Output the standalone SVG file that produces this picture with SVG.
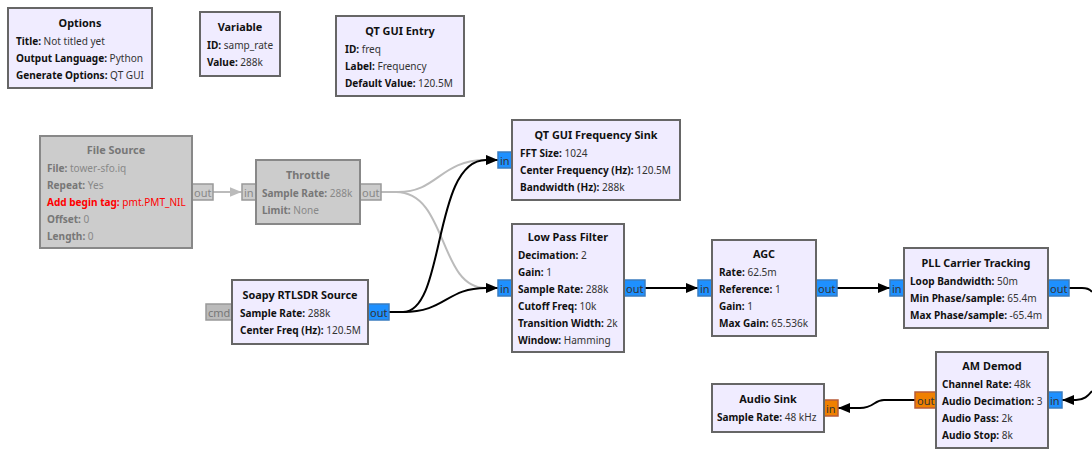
<svg xmlns="http://www.w3.org/2000/svg" width="1092" height="456" viewBox="0 0 1092 456">
<style>
text{font-family:"Noto Sans","DejaVu Sans",sans-serif;font-size:11px;fill:#333;transform-box:fill-box;transform-origin:0 0;transform:scaleX(.915)}
text tspan,.t{font-weight:700;fill:#111}
.t{text-anchor:middle;transform-origin:50% 0;transform:scaleX(.99)}
.p+text{transform:none}
.b{fill:#f0ecff;stroke:#666;stroke-width:2}
.p{stroke-width:1.5}
.c{fill:#1e90ff;stroke:#3a7cc0}
.f{fill:#f08000;stroke:#b85c38}
.d .b{fill:#ccc;stroke:#888}
.d text{fill:#888}
.d tspan,.d .t{fill:#777}
.d .c{fill:#ccc;stroke:#999}
.g{fill:#bbb;stroke:#999}
text.g2{fill:#777}
.d text.r{fill:#f00}
.d text.r tspan{fill:#f00}
.w{fill:none;stroke-width:2}
.k{stroke:#000}
.y{stroke:#bbb}
</style>
<defs>
<marker id="ak" markerUnits="userSpaceOnUse" markerWidth="13" markerHeight="12" refX="12" refY="6" orient="auto"><path d="M0 1L12 6L0 11Z" fill="#000"/></marker>
<marker id="ay" markerUnits="userSpaceOnUse" markerWidth="13" markerHeight="12" refX="12" refY="6" orient="auto"><path d="M0 1L12 6L0 11Z" fill="#bbb"/></marker>
</defs>
<g id="connectors">
<path class="w y" marker-end="url(#ay)" d="M213 192H241.500"/>
<path class="w y" marker-end="url(#ay)" d="M381 192H398C438 192 440 160 486 160H498"/>
<path class="w y" marker-end="url(#ay)" d="M381 192H396C448 192 438 288 486 288H498"/>
<path class="w k" marker-end="url(#ak)" d="M389 312H403C446 312 432 160 486 160H498"/>
<path class="w k" marker-end="url(#ak)" d="M389 312H403C446 312 446 288 486 288H498"/>
<path class="w k" marker-end="url(#ak)" d="M645 288H698"/>
<path class="w k" marker-end="url(#ak)" d="M837 288H890"/>
<path class="w k" d="M1069 288H1082C1087 288 1090 289 1092 292"/>
<path class="w k" marker-end="url(#ak)" d="M1092 391C1088 396 1084 400 1076 400H1062"/>
<path class="w k" marker-end="url(#ak)" d="M915 400H884C874 400 874 408 860 408H838"/>
</g>
<g id="options"><rect class="b" x="8" y="8" width="144" height="80"/><text class="t" x="80" y="27">Options</text>
<text x="16" y="45"><tspan>Title:</tspan> Not titled yet</text><text x="16" y="62"><tspan>Output Language:</tspan> Python</text><text x="16" y="79"><tspan>Generate Options:</tspan> QT GUI</text></g>
<g id="variable"><rect class="b" x="200" y="12" width="80" height="64"/><text class="t" x="240" y="31">Variable</text>
<text x="207" y="49"><tspan>ID:</tspan> samp_rate</text><text x="207" y="66"><tspan>Value:</tspan> 288k</text></g>
<g id="qt_gui_entry"><rect class="b" x="336" y="16" width="128" height="80"/><text class="t" x="400" y="35">QT GUI Entry</text>
<text x="345" y="53"><tspan>ID:</tspan> freq</text><text x="345" y="70"><tspan>Label:</tspan> Frequency</text><text x="345" y="87"><tspan>Default Value:</tspan> 120.5M</text></g>
<g id="file_source" class="d"><rect class="p c" x="192" y="184" width="21" height="16"/><text x="194" y="197">out</text><rect class="b" x="40" y="136" width="152" height="112"/><text class="t" x="116" y="154">File Source</text>
<text x="47" y="172"><tspan>File:</tspan> tower-sfo.iq</text><text x="47" y="189"><tspan>Repeat:</tspan> Yes</text><text class="r" x="47" y="206"><tspan>Add begin tag:</tspan> pmt.PMT_NIL</text><text x="47" y="223"><tspan>Offset:</tspan> 0</text><text x="47" y="240"><tspan>Length:</tspan> 0</text></g>
<g id="throttle" class="d"><rect class="p c" x="242" y="184" width="14" height="16"/><text x="244" y="197">in</text><rect class="p c" x="360" y="184" width="21" height="16"/><text x="362" y="197">out</text><rect class="b" x="256" y="160" width="104" height="64"/><text class="t" x="308" y="179">Throttle</text>
<text x="262" y="197"><tspan>Sample Rate:</tspan> 288k</text><text x="262" y="214"><tspan>Limit:</tspan> None</text></g>
<g id="soapy_rtlsdr_source"><rect class="p g" x="206" y="304" width="26" height="16"/><text class="g2" x="208" y="317">cmd</text><rect class="p c" x="368" y="304" width="21" height="16"/><text x="370" y="317">out</text><rect class="b" x="232" y="280" width="136" height="64"/><text class="t" x="300" y="299">Soapy RTLSDR Source</text>
<text x="240" y="317"><tspan>Sample Rate:</tspan> 288k</text><text x="240" y="334"><tspan>Center Freq (Hz):</tspan> 120.5M</text></g>
<g id="qt_gui_frequency_sink"><rect class="p c" x="498" y="152" width="14" height="16"/><text x="500" y="165">in</text><rect class="b" x="512" y="120" width="168" height="80"/><text class="t" x="596" y="139">QT GUI Frequency Sink</text>
<text x="520" y="157"><tspan>FFT Size:</tspan> 1024</text><text x="520" y="174"><tspan>Center Frequency (Hz):</tspan> 120.5M</text><text x="520" y="191"><tspan>Bandwidth (Hz):</tspan> 288k</text></g>
<g id="low_pass_filter"><rect class="p c" x="498" y="280" width="14" height="16"/><text x="500" y="293">in</text><rect class="p c" x="624" y="280" width="21" height="16"/><text x="626" y="293">out</text><rect class="b" x="512" y="224" width="112" height="128"/><text class="t" x="568" y="241">Low Pass Filter</text>
<text x="518" y="259"><tspan>Decimation:</tspan> 2</text><text x="518" y="276"><tspan>Gain:</tspan> 1</text><text x="518" y="293"><tspan>Sample Rate:</tspan> 288k</text><text x="518" y="310"><tspan>Cutoff Freq:</tspan> 10k</text><text x="518" y="327"><tspan>Transition Width:</tspan> 2k</text><text x="518" y="344"><tspan>Window:</tspan> Hamming</text></g>
<g id="agc"><rect class="p c" x="698" y="280" width="14" height="16"/><text x="700" y="293">in</text><rect class="p c" x="816" y="280" width="21" height="16"/><text x="818" y="293">out</text><rect class="b" x="712" y="240" width="104" height="96"/><text class="t" x="764" y="258">AGC</text>
<text x="719" y="276"><tspan>Rate:</tspan> 62.5m</text><text x="719" y="293"><tspan>Reference:</tspan> 1</text><text x="719" y="310"><tspan>Gain:</tspan> 1</text><text x="719" y="327"><tspan>Max Gain:</tspan> 65.536k</text></g>
<g id="pll_carrier_tracking"><rect class="p c" x="890" y="280" width="14" height="16"/><text x="892" y="293">in</text><rect class="p c" x="1048" y="280" width="21" height="16"/><text x="1050" y="293">out</text><rect class="b" x="904" y="248" width="144" height="80"/><text class="t" x="976" y="267">PLL Carrier Tracking</text>
<text x="910" y="285"><tspan>Loop Bandwidth:</tspan> 50m</text><text x="910" y="302"><tspan>Min Phase/sample:</tspan> 65.4m</text><text x="910" y="319"><tspan>Max Phase/sample:</tspan> -65.4m</text></g>
<g id="am_demod"><rect class="p f" x="915" y="392" width="21" height="16"/><text x="917" y="405">out</text><rect class="p c" x="1048" y="392" width="14" height="16"/><text x="1050" y="405">in</text><rect class="b" x="936" y="352" width="112" height="96"/><text class="t" x="992" y="370">AM Demod</text>
<text x="942" y="388"><tspan>Channel Rate:</tspan> 48k</text><text x="942" y="405"><tspan>Audio Decimation:</tspan> 3</text><text x="942" y="422"><tspan>Audio Pass:</tspan> 2k</text><text x="942" y="439"><tspan>Audio Stop:</tspan> 8k</text></g>
<g id="audio_sink"><rect class="p f" x="824" y="400" width="14" height="16"/><text x="826" y="413">in</text><rect class="b" x="712" y="384" width="112" height="48"/><text class="t" x="768" y="403">Audio Sink</text>
<text x="717" y="421"><tspan>Sample Rate:</tspan> 48 kHz</text></g>
</svg>
